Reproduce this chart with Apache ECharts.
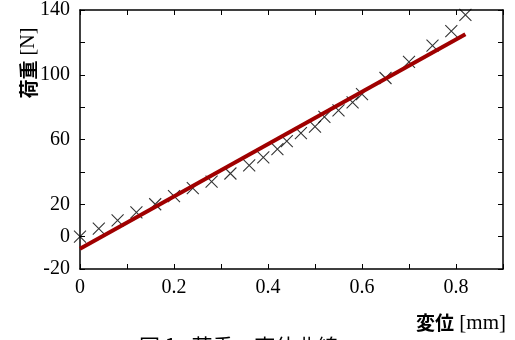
<!DOCTYPE html>
<html>
<head>
<meta charset="utf-8">
<script src="https://cdn.jsdelivr.net/npm/echarts@6/dist/echarts.min.js"></script>
<style>
html,body{margin:0;padding:0;background:#fff;}
#c{width:515px;height:340px;}
</style>
</head>
<body>
<div id="c"></div>
<script>
// measured points (displacement mm, load N)
var dispData = [0, 0.04, 0.08, 0.12, 0.16, 0.20, 0.24, 0.28, 0.32, 0.36, 0.39, 0.42, 0.44, 0.47, 0.50, 0.52, 0.55, 0.58, 0.60, 0.65, 0.70, 0.75, 0.79, 0.82];
var loadData = [0, 5, 10, 15, 20, 25, 30, 34, 39, 44, 49, 54, 59, 64, 68, 74, 78, 83, 88, 98, 108, 118, 127, 137];
// fitted line endpoints
var fitX = [0, 0.82];
var fitY = [-7.5, 125];
// tick labels shown
var yLabels = [140, 100, 60, 20, 0, -20];
var xLabels = [0, 0.2, 0.4, 0.6, 0.8];

var serif = '"Liberation Serif", "DejaVu Serif", serif';
var cjk = '"Noto Sans CJK JP", "Noto Sans CJK SC", sans-serif';

var chart = echarts.init(document.getElementById('c'), null, {renderer: 'canvas'});

function axisBase(extra) {
  var o = {
    axisLine: {show: true, onZero: false, lineStyle: {color: '#000', width: 1.5}},
    axisTick: {show: true, inside: true, length: 5, lineStyle: {color: '#000', width: 1}},
    splitLine: {show: false}
  };
  for (var k in extra) o[k] = extra[k];
  return o;
}

var scatterPts = dispData.map(function (x, i) { return [x, loadData[i]]; });
var linePts = fitX.map(function (x, i) { return [x, fitY[i]]; });

chart.setOption({
  animation: false,
  grid: {left: 80, right: 12, top: 10, bottom: 71, containLabel: false},
  xAxis: [
    axisBase({
      type: 'value', min: 0, max: 0.9, interval: 0.1, position: 'bottom',
      axisLabel: {
        show: true, margin: 9, color: '#000', fontFamily: serif, fontSize: 20,
        formatter: function (v) {
          var r = Math.round(v * 10) / 10;
          for (var i = 0; i < xLabels.length; i++) if (Math.abs(xLabels[i] - r) < 1e-6) return String(xLabels[i]);
          return '';
        }
      }
    }),
    axisBase({
      type: 'value', min: 0, max: 0.9, interval: 0.1, position: 'top',
      axisLabel: {show: false}
    })
  ],
  yAxis: [
    axisBase({
      type: 'value', min: -20, max: 140, interval: 20, position: 'left',
      axisLabel: {
        show: true, margin: 10, color: '#000', fontFamily: serif, fontSize: 20,
        formatter: function (v) {
          return yLabels.indexOf(v) >= 0 ? String(v) : '';
        }
      }
    }),
    axisBase({
      type: 'value', min: -20, max: 140, interval: 20, position: 'right',
      axisLabel: {show: false}
    })
  ],
  series: [
    {
      type: 'scatter', xAxisIndex: 0, yAxisIndex: 0,
      data: scatterPts,
      symbol: 'path://M0,0L10,10M10,0L0,10',
      symbolSize: 12,
      itemStyle: {color: 'rgba(0,0,0,0)', borderColor: '#000', borderWidth: 1.1},
      z: 2
    },
    {
      type: 'line', xAxisIndex: 0, yAxisIndex: 0,
      data: linePts, showSymbol: false, symbol: 'none',
      lineStyle: {color: '#a00000', width: 4},
      z: 3
    }
  ],
  graphic: [
    {
      type: 'text', x: 29, y: 63, rotation: Math.PI / 2,
      style: {
        text: '{a|荷重}{b| [N]}', align: 'center', verticalAlign: 'middle',
        rich: {
          a: {fontFamily: cjk, fontSize: 19, fontWeight: 'bold', fill: '#000'},
          b: {fontFamily: serif, fontSize: 20, fill: '#000'}
        }
      }
    },
    {
      type: 'text', x: 506, y: 323,
      style: {
        text: '{a|変位}{b| [mm]}', align: 'right', verticalAlign: 'middle',
        rich: {
          a: {fontFamily: cjk, fontSize: 19, fontWeight: 'bold', fill: '#000'},
          b: {fontFamily: serif, fontSize: 21, fill: '#000'}
        }
      }
    },
    {
      type: 'text', x: 139, y: 336,
      style: {
        text: '図 1:  荷重 – 変位曲線', align: 'left', verticalAlign: 'top',
        fontFamily: cjk, fontSize: 21, fill: '#000'
      }
    }
  ]
});
</script>
</body>
</html>
